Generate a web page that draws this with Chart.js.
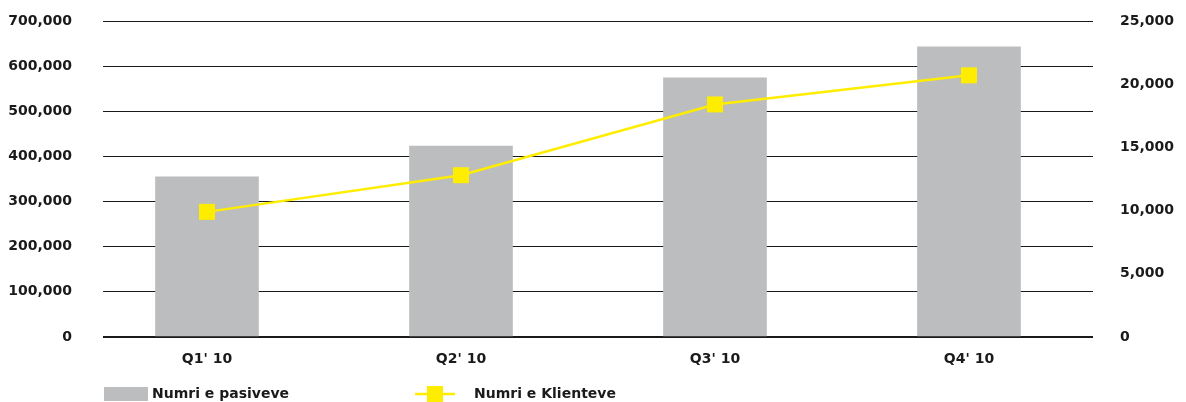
<!DOCTYPE html>
<html>
<head>
<meta charset="utf-8">
<script src="https://cdn.jsdelivr.net/npm/chart.js@4/dist/chart.umd.min.js"></script>
<style>body{margin:0;background:#fff}</style>
</head>
<body>
<canvas id="chart" width="1186" height="402"></canvas>
<script>
// data
const quarters = ["Q1' 10", "Q2' 10", "Q3' 10", "Q4' 10"];
const pasiveve = [355000, 423000, 574000, 643000];   // left axis (bars)
const klientet = [9900, 12800, 18400, 20700];        // right axis (line)
const seriesNames = ['Numri e pasiveve', 'Numri e Klienteve'];

const barColor = '#bcbdbf';
const lineColor = '#ffed00';
const textColor = '#1a1a1a';
const font = { family: 'DejaVu Sans', size: 14, weight: 'bold' };

Chart.defaults.font = font;
Chart.defaults.color = textColor;

const fmt = v => Number(v).toLocaleString('en-US');

// fixed axis width, and no extra top/bottom padding from the tick padding
const fixWidth = w => s => { s.width = w; s.paddingTop = 0; s.paddingBottom = 0; };

// bottom legend, drawn by hand (bar swatch + line with square marker)
const bottomLegend = {
    id: 'bottomLegend',
    afterDraw(chart) {
        const ctx = chart.ctx;
        const y = 394;
        ctx.save();
        ctx.fillStyle = barColor;
        ctx.fillRect(104, 387, 44, 14);

        ctx.strokeStyle = lineColor;
        ctx.lineWidth = 2.5;
        ctx.beginPath();
        ctx.moveTo(415, y);
        ctx.lineTo(455, y);
        ctx.stroke();
        ctx.fillStyle = lineColor;
        ctx.fillRect(427, y - 8, 16, 16);

        ctx.fillStyle = textColor;
        ctx.font = 'bold 14px "DejaVu Sans"';
        ctx.textBaseline = 'middle';
        ctx.fillText(chart.data.datasets[0].label, 152, y);
        ctx.fillText(chart.data.datasets[1].label, 474, y);
        ctx.restore();
    }
};

new Chart(document.getElementById('chart'), {
    type: 'bar',
    data: {
        datasets: [
            {
                type: 'bar',
                label: seriesNames[0],
                data: pasiveve.map((v, i) => ({ x: i + 1, y: v })),
                backgroundColor: barColor,
                barThickness: 103,
                yAxisID: 'y',
                order: 1
            },
            {
                type: 'line',
                label: seriesNames[1],
                data: klientet.map((v, i) => ({ x: i + 1, y: v })),
                borderColor: lineColor,
                borderWidth: 2.5,
                backgroundColor: lineColor,
                pointStyle: 'rect',
                pointRadius: 11.3,
                pointBorderWidth: 0,
                tension: 0,
                yAxisID: 'y2',
                order: 0
            }
        ]
    },
    options: {
        responsive: false,
        animation: false,
        layout: { padding: { top: 21, left: 0, right: 0, bottom: 0 } },
        plugins: { legend: { display: false }, tooltip: { enabled: false } },
        scales: {
            x: {
                type: 'linear',
                min: 0.5906,
                max: 4.4882,
                offset: false,
                grid: { display: false, drawTicks: false },
                border: { display: false },
                afterBuildTicks: s => { s.ticks = quarters.map((q, i) => ({ value: i + 1 })); },
                ticks: {
                    autoSkip: false,
                    maxRotation: 0,
                    padding: 14,
                    callback: v => quarters[v - 1]
                },
                afterFit: s => { s.height = 65; }
            },
            y: {
                position: 'left',
                min: 0,
                max: 700000,
                ticks: { stepSize: 100000, padding: 31, callback: fmt },
                grid: {
                    drawTicks: false,
                    color: '#1a1a1a',
                    lineWidth: c => c.tick && c.tick.value === 0 ? 2 : 1
                },
                border: { display: false },
                afterFit: fixWidth(103)
            },
            y2: {
                position: 'right',
                min: 0,
                max: 25000,
                ticks: { stepSize: 5000, padding: 27, callback: fmt },
                grid: { display: false, drawTicks: false },
                border: { display: false },
                afterFit: fixWidth(93)
            }
        }
    },
    plugins: [bottomLegend]
});
</script>
</body>
</html>
